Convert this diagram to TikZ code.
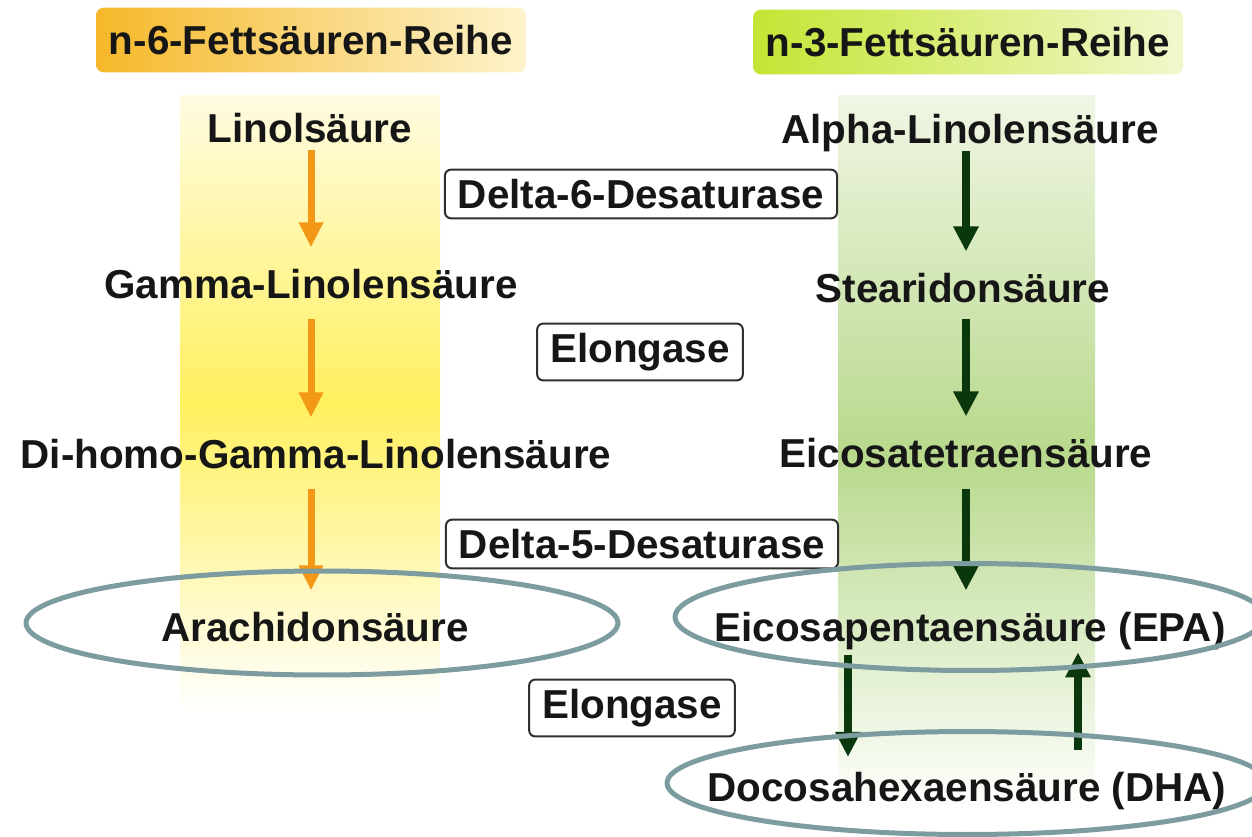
\documentclass[tikz,border=0pt]{standalone}
\usepackage{fontspec}
\setmainfont{Liberation Sans}
\usepackage{tikz}
\usetikzlibrary{calc,shapes.geometric,arrows.meta}
\definecolor{hdrorange}{RGB}{246,184,42}
\definecolor{hdrorangepale}{RGB}{253,243,204}
\definecolor{hdrgreen}{RGB}{196,229,52}
\definecolor{hdrgreenpale}{RGB}{240,248,204}
\definecolor{bandyellow}{RGB}{255,240,95}
\definecolor{bandyellowpale}{RGB}{255,252,226}
\definecolor{bandgreen}{RGB}{184,217,140}
\definecolor{bandgreenpale}{RGB}{240,246,228}
\definecolor{arroworange}{RGB}{243,152,22}
\definecolor{arrowgreen}{RGB}{10,56,12}
\definecolor{ringgray}{RGB}{124,156,160}
\definecolor{boxline}{RGB}{48,48,48}
\definecolor{textdark}{RGB}{22,22,22}
\tikzset{
  acid/.style={font=\fontsize{23}{27}\selectfont\bfseries, text=textdark,
               inner sep=0pt, text depth=0pt, anchor=base},
  header/.style={rounded corners=0.16cm, minimum width=8.6cm,
                 minimum height=1.3cm, inner sep=0pt, text depth=0pt,
                 font=\fontsize{23}{27}\selectfont\bfseries, text=textdark},
  enzyme/.style={draw=boxline, line width=0.04cm, fill=white,
                 rounded corners=0.12cm, inner xsep=0.26cm, inner ysep=0.19cm,
                 font=\fontsize{23}{27}\selectfont\bfseries, text=textdark},
  oarrow/.style={draw=arroworange, line width=0.14cm,
                 -{Triangle[width=0.46cm, length=0.5cm]}, shorten >=0.42cm},
  garrow/.style={draw=arrowgreen, line width=0.16cm,
                 -{Triangle[width=0.48cm, length=0.5cm]}, shorten >=0.42cm},
  ring/.style={ellipse, draw=ringgray, line width=0.1cm, inner sep=0pt},
}
\begin{document}
\begin{tikzpicture}[x=0.02cm, y=-0.02cm]
\clip (0,0) rectangle (1252,836);
% shaded bands behind the two series
\shade[top color=bandyellowpale, bottom color=white, middle color=bandyellow]
  (180,95) rectangle (440,712);
\shade[top color=bandgreenpale, bottom color=white, middle color=bandgreen]
  (838,95) rectangle (1095,812);
% column headers
\node[header, left color=hdrorange, right color=hdrorangepale] (hdrsix) at (311,40) {n-6-Fettsäuren-Reihe};
\node[header, left color=hdrgreen, right color=hdrgreenpale] (hdrthree) at (968,42) {n-3-Fettsäuren-Reihe};
\coordinate (colL) at (311,0);
\coordinate (colR) at (966,0);
% n-6 series
\foreach \nm/\x/\y/\txt in {lin/310/142/Linolsäure, gla/311/298/Gamma-Linolensäure,
    dgla/316/468/Di-homo-Gamma-Linolensäure, ara/315/641/Arachidonsäure}
  \node[acid] (\nm) at (\x,\y) {\txt};
% n-3 series
\foreach \nm/\x/\y/\txt in {ala/970/143/Alpha-Linolensäure, sda/963/302/Stearidonsäure,
    eta/966/467/Eicosatetraensäure, epa/970/641/Eicosapentaensäure (EPA),
    dha/967/801/Docosahexaensäure (DHA)}
  \node[acid] (\nm) at (\x,\y) {\txt};
% enzymes between the columns
\node[enzyme] (dsix) at (641,194) {Delta-6-Desaturase};
\node[enzyme] (elonga) at (640,352) {Elongase};
\node[enzyme] (dfive) at (642,544) {Delta-5-Desaturase};
\node[enzyme] (elongb) at (632,708) {Elongase};
% conversion arrows
\foreach \a/\b/\s in {lin/gla/0.16, gla/dgla/0.42, dgla/ara/0.42}
  \draw[oarrow, shorten <=\s cm] (\a.south -| colL) -- (\b.north -| colL);
\foreach \a/\b/\s in {ala/sda/0.16, sda/eta/0.34, eta/epa/0.44}
  \draw[garrow, shorten <=\s cm] (\a.south -| colR) -- (\b.north -| colR);
% EPA <-> DHA
\coordinate (epadown) at ($(epa.south)+(-122,0)$);
\coordinate (dhaup) at ($(dha.north)+(111,0)$);
\draw[garrow, shorten <=0.28cm, shorten >=0.29cm] (epadown) -- (epadown |- dha.north);
\draw[garrow, shorten <=0.43cm, shorten >=0.22cm] (dhaup) -- (dhaup |- epa.south);
% end products circled
\node[ring, minimum width=11.84cm, minimum height=2.08cm] (araring) at (322,623) {};
\node[ring, minimum width=11.8cm, minimum height=2.14cm] (eparing) at (970,617) {};
\node[ring, minimum width=12cm, minimum height=2.06cm] (dharing) at (967,783) {};
\end{tikzpicture}
\end{document}
